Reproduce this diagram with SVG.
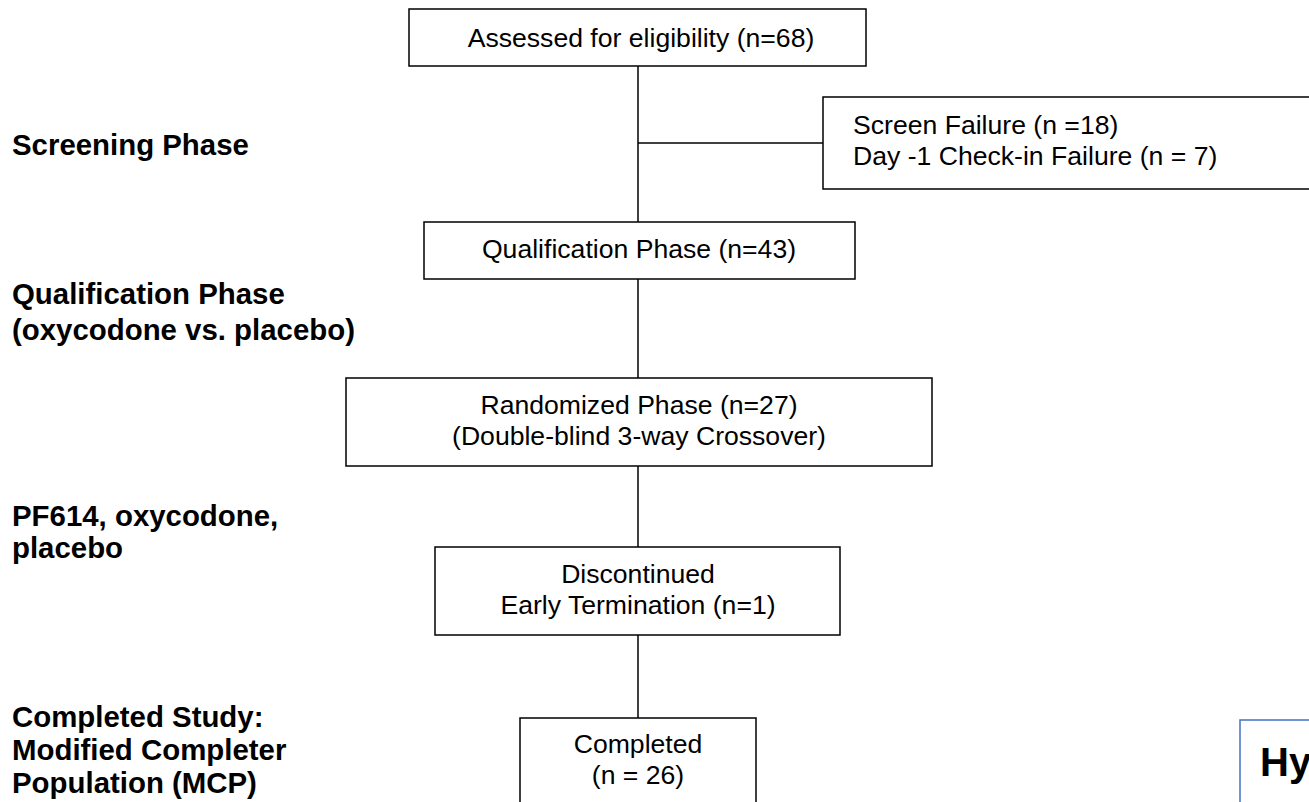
<svg xmlns="http://www.w3.org/2000/svg" width="1309" height="802" viewBox="0 0 1309 802">
<style>
.box{fill:#fff;stroke:#000;stroke-width:1.5}
.t{font-family:"Liberation Sans",Arial,sans-serif;font-size:26.6px;fill:#000}
.c{text-anchor:middle}
.lb{font-family:"Liberation Sans",Arial,sans-serif;font-size:29.4px;font-weight:bold;fill:#000}
.ln{stroke:#000;stroke-width:1.5;fill:none}
</style>
<rect width="1309" height="802" fill="#fff"/>
<g id="connectors">
<line class="ln" x1="638" y1="66" x2="638" y2="222"/>
<line class="ln" x1="638" y1="143" x2="823" y2="143"/>
<line class="ln" x1="638" y1="279" x2="638" y2="378"/>
<line class="ln" x1="638" y1="466" x2="638" y2="547"/>
<line class="ln" x1="638" y1="635" x2="638" y2="718"/>
</g>
<g id="assessed">
<rect class="box" x="409" y="9" width="457" height="57"/>
<text class="t c" x="641" y="47">Assessed for eligibility (n=68)</text>
</g>
<g id="screenfail">
<rect class="box" x="823" y="97" width="500" height="92"/>
<text class="t" x="853" y="134">Screen Failure (n =18)</text>
<text class="t" x="853" y="165">Day -1 Check-in Failure (n = 7)</text>
</g>
<g id="qualification">
<rect class="box" x="424" y="222" width="431" height="57"/>
<text class="t c" x="639" y="258">Qualification Phase (n=43)</text>
</g>
<g id="randomized">
<rect class="box" x="346" y="378" width="586" height="88"/>
<text class="t c" x="639" y="414">Randomized Phase (n=27)</text>
<text class="t c" x="639" y="445">(Double-blind 3-way Crossover)</text>
</g>
<g id="discontinued">
<rect class="box" x="435" y="547" width="405" height="88"/>
<text class="t c" x="638" y="583">Discontinued</text>
<text class="t c" x="638" y="614">Early Termination (n=1)</text>
</g>
<g id="completed">
<rect class="box" x="520" y="718" width="236" height="100"/>
<text class="t c" x="638" y="753">Completed</text>
<text class="t c" x="638" y="784">(n = 26)</text>
</g>
<g id="labels">
<text class="lb" x="12" y="155">Screening Phase</text>
<text class="lb" x="12" y="304">Qualification Phase</text>
<text class="lb" x="12" y="340">(oxycodone vs. placebo)</text>
<text class="lb" x="12" y="526">PF614, oxycodone,</text>
<text class="lb" x="12" y="558">placebo</text>
<text class="lb" x="12" y="727">Completed Study:</text>
<text class="lb" x="12" y="760">Modified Completer</text>
<text class="lb" x="12" y="793">Population (MCP)</text>
</g>
<g id="hypothesis">
<rect x="1240" y="720" width="100" height="100" fill="#fff" stroke="#4472C4" stroke-width="1.5"/>
<text class="lb" x="1260" y="776" style="font-size:40px">Hy</text>
</g>
</svg>
